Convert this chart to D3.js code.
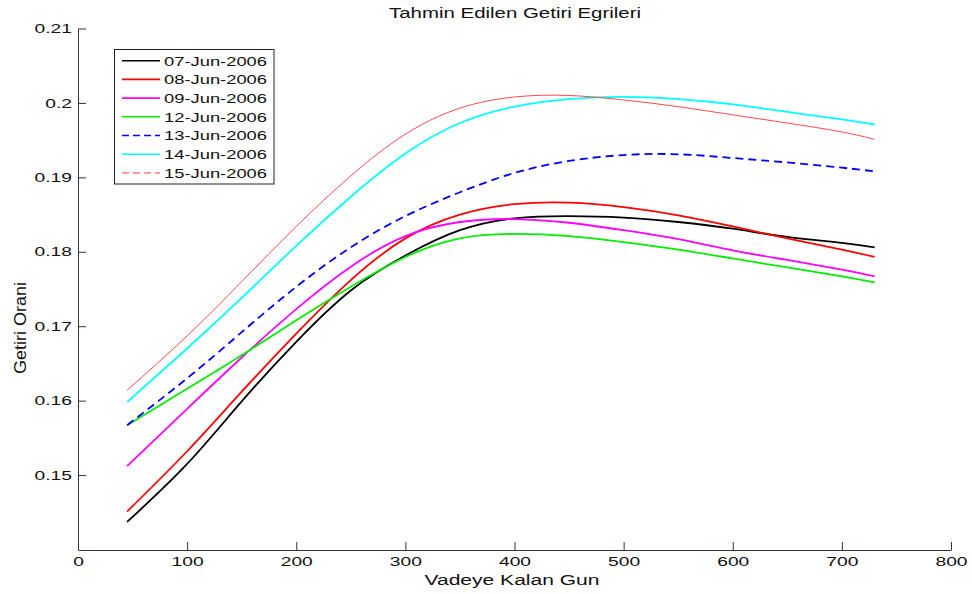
<!DOCTYPE html>
<html>
<head>
<meta charset="utf-8">
<script src="https://d3js.org/d3.v7.min.js"></script>
<style>
  html, body { margin: 0; padding: 0; background: #fff; }
  svg { display: block; font-family: "Liberation Sans", Arial, Helvetica, sans-serif; }
</style>
</head>
<body>
<svg id="chart" width="972" height="594"></svg>
<script>
// Days to maturity at which each curve is sampled
const days = [45, 100, 150, 200, 250, 300, 350, 400, 450, 500, 550, 600, 650, 700, 730];

// Estimated yield curves, one array per date
const jun07 = [0.1437, 0.1515, 0.1599, 0.1679, 0.1748, 0.1795, 0.1829, 0.1845, 0.1848, 0.1846, 0.1840, 0.1831, 0.1820, 0.1812, 0.1806];
const jun08 = [0.1451, 0.1532, 0.1612, 0.1690, 0.1762, 0.1818, 0.1850, 0.1864, 0.1866, 0.1860, 0.1849, 0.1834, 0.1818, 0.1803, 0.1793];
const jun09 = [0.1512, 0.1589, 0.1658, 0.1723, 0.1780, 0.1821, 0.1840, 0.1844, 0.1839, 0.1829, 0.1817, 0.1802, 0.1789, 0.1776, 0.1767];
const jun12 = [0.1567, 0.1616, 0.1661, 0.1708, 0.1753, 0.1793, 0.1818, 0.1824, 0.1821, 0.1813, 0.1803, 0.1791, 0.1779, 0.1767, 0.1759];
const jun13 = [0.1567, 0.1630, 0.1692, 0.1753, 0.1806, 0.1848, 0.1880, 0.1906, 0.1922, 0.1930, 0.1931, 0.1926, 0.1920, 0.1913, 0.1908];
const jun14 = [0.1598, 0.1670, 0.1738, 0.1808, 0.1874, 0.1932, 0.1973, 0.1995, 0.2005, 0.2008, 0.2005, 0.1998, 0.1988, 0.1978, 0.1971];
const jun15 = [0.1614, 0.1687, 0.1760, 0.1834, 0.1902, 0.1958, 0.1993, 0.2008, 0.2010, 0.2004, 0.1995, 0.1984, 0.1973, 0.1961, 0.1951];

const seriesNames = ["07-Jun-2006", "08-Jun-2006", "09-Jun-2006", "12-Jun-2006", "13-Jun-2006", "14-Jun-2006", "15-Jun-2006"];
const seriesValues = [jun07, jun08, jun09, jun12, jun13, jun14, jun15];

const xTicks = [0, 100, 200, 300, 400, 500, 600, 700, 800];
const yTicks = [0.15, 0.16, 0.17, 0.18, 0.19, 0.20, 0.21];

const titleText = "Tahmin Edilen Getiri Egrileri";
const xLabelText = "Vadeye Kalan Gun";
const yLabelText = "Getiri Orani";

// Line styling per series
const styles = [
  { color: "#000000", width: 1.8, dash: null,  legendColor: "#000000", legendDash: null },
  { color: "#ff0000", width: 1.8, dash: null,  legendColor: "#ff0000", legendDash: null },
  { color: "#ff00ff", width: 1.8, dash: null,  legendColor: "#ff00ff", legendDash: null },
  { color: "#00ee00", width: 1.8, dash: null,  legendColor: "#00ee00", legendDash: null },
  { color: "#0000ff", width: 1.8, dash: "8,5", legendColor: "#0000ff", legendDash: "7,4" },
  { color: "#00ffff", width: 1.8, dash: null,  legendColor: "#00ffff", legendDash: null },
  { color: "#ff4a4a", width: 1.0, dash: null,  legendColor: "#ff8c8c", legendDash: "7,4" }
];

const svg = d3.select("#chart");

const x = d3.scaleLinear().domain([0, 800]).range([78, 951]);
const y = d3.scaleLinear().domain([0.14, 0.21]).range([549.5, 28.5]);

// Horizontally widen a text element about its anchor point
function widen(sel, sx) {
  sel.each(function () {
    const t = d3.select(this);
    const tx = +t.attr("x") || 0;
    t.attr("x", tx / sx).attr("transform", `scale(${sx},1)`);
  });
}

// Axes (ticks point inward, no box)
const xAxis = d3.axisBottom(x).tickValues(xTicks).tickSizeInner(-8).tickSizeOuter(0)
  .tickPadding(7).tickFormat(d3.format("d"));
const yAxis = d3.axisLeft(y).tickValues(yTicks).tickSizeInner(-8).tickSizeOuter(0)
  .tickPadding(6).tickFormat(d => String(+d.toFixed(2)));

const gx = svg.append("g").attr("transform", "translate(0,550)").call(xAxis);
const gy = svg.append("g").attr("transform", "translate(78,0)").call(yAxis);

[gx, gy].forEach(g => {
  g.select(".domain").attr("stroke", "#333").attr("stroke-width", 1);
  g.selectAll(".tick line").attr("stroke", "#333").attr("stroke-width", 1);
  g.selectAll(".tick text").attr("fill", "#111").style("font-size", "13px")
    .style("font-family", "'Liberation Sans', Arial, sans-serif");
  widen(g.selectAll(".tick text"), 1.48);
});

// Curves
const line = d3.line()
  .x(d => x(d[0]))
  .y(d => y(d[1]))
  .curve(d3.curveNatural);

const curves = svg.append("g");
seriesValues.forEach((vals, i) => {
  const pts = days.map((dd, k) => [dd, vals[k]]);
  const s = styles[i];
  curves.append("path")
    .datum(pts)
    .attr("fill", "none")
    .attr("stroke", s.color)
    .attr("stroke-width", s.width)
    .attr("stroke-dasharray", s.dash)
    .attr("d", line);
});

// Title and axis labels
svg.append("text")
  .attr("x", 515).attr("y", 17.5)
  .attr("text-anchor", "middle")
  .style("font-size", "15.5px").attr("fill", "#111")
  .attr("textLength", 252).attr("lengthAdjust", "spacingAndGlyphs")
  .text(titleText);

svg.append("text")
  .attr("x", 512).attr("y", 585)
  .attr("text-anchor", "middle")
  .style("font-size", "15.5px").attr("fill", "#111")
  .attr("textLength", 175).attr("lengthAdjust", "spacingAndGlyphs")
  .text(xLabelText);

svg.append("text")
  .attr("transform", "translate(26,328) rotate(-90)")
  .attr("text-anchor", "middle")
  .style("font-size", "16px").attr("fill", "#111")
  .attr("textLength", 92).attr("lengthAdjust", "spacingAndGlyphs")
  .text(yLabelText);

// Legend
const legend = svg.append("g");
legend.append("rect")
  .attr("x", 114.5).attr("y", 49.5).attr("width", 159.5).attr("height", 134.5)
  .attr("fill", "#fff").attr("stroke", "#222").attr("stroke-width", 1);

seriesNames.forEach((name, i) => {
  const cy = 60.7 + i * 18.7;
  const s = styles[i];
  legend.append("line")
    .attr("x1", 122).attr("x2", 160).attr("y1", cy).attr("y2", cy)
    .attr("stroke", s.legendColor).attr("stroke-width", 1.6)
    .attr("stroke-dasharray", s.legendDash);
  legend.append("text")
    .attr("x", 164).attr("y", cy + 4.9)
    .style("font-size", "13.5px").attr("fill", "#111")
    .attr("textLength", 103).attr("lengthAdjust", "spacingAndGlyphs")
    .text(name);
});
</script>
</body>
</html>
